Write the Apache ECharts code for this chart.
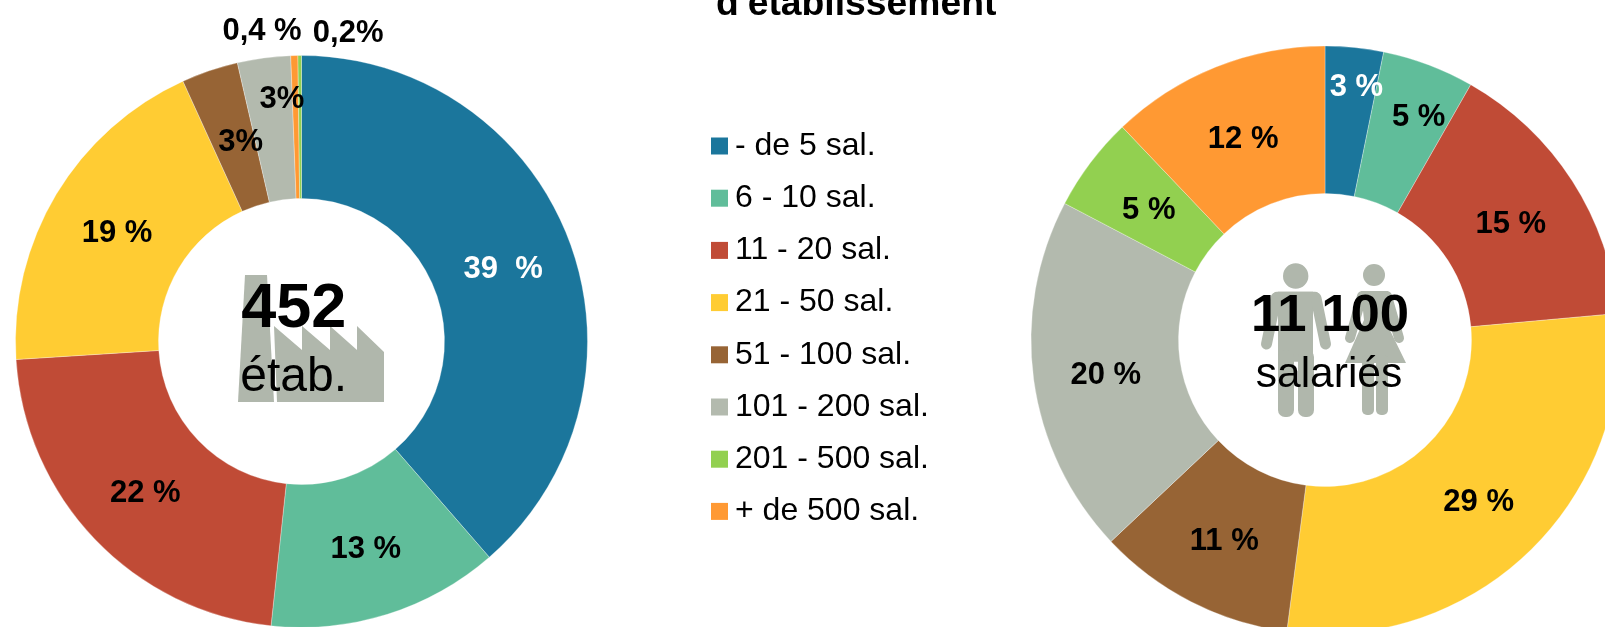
<!DOCTYPE html>
<html><head><meta charset="utf-8">
<style>html,body{margin:0;padding:0;background:#fff;overflow:hidden}#c{width:1605px;height:627px}</style>
<script src="https://cdn.jsdelivr.net/npm/echarts@6/dist/echarts.min.js"></script>
</head><body><div id="c"></div>
<script>
const categories = ['- de 5 sal.','6 - 10 sal.','11 - 20 sal.','21 - 50 sal.','51 - 100 sal.','101 - 200 sal.','201 - 500 sal.','+ de 500 sal.'];
const colors = ['#1B769C','#60BD9A','#C04B36','#FFCC33','#976435','#B3BAAE','#92D050','#FF9933'];
const etabOrder = [0,1,2,3,4,5,7,6];
const etabValues = [38.6,13.1,22.3,19.2,3.2,3.0,0.4,0.2];
const etabLabels = ['39  %','13 %','22 %','19 %','3%','3%','0,4 %','0,2%'];
const salOrder = [0,1,2,3,4,5,6,7];
const salValues = [3.2,5.05,15.3,28.5,10.9,19.7,5.2,12.1];
const salLabels = ['3 %','5 %','15 %','29 %','11 %','20 %','5 %','12 %'];
const etabLabelShift = [[-2,4],[-1,0],[1,2],[2,4],[9,7],[9,-26],[-34,-93],[48,-91]];
const salLabelShift = [[9,-30],[15,-14],[-2,5],[-1,1],[1,3],[2,5],[2,5],[1,7]];
const whiteLabels = {'39  %':1,'3 %':1};

function pie(name, order, values, labels, shifts, center, radius){
  return {
    type:'pie', name, silent:true, center, radius, startAngle:90, clockwise:true,
    animation:false, avoidLabelOverlap:false, percentPrecision:2,
    labelLine:{show:false},
    label:{show:true, position:'inside', fontFamily:'Liberation Sans', fontWeight:'bold', fontSize:31, color:'#000'},
    labelLayout:(p)=>({dx:shifts[p.dataIndex][0], dy:shifts[p.dataIndex][1], hideOverlap:false}),
    itemStyle:{borderColor:'#fff', borderWidth:0.3},
    data: values.map((v,i)=>({
      name:categories[order[i]], value:v,
      itemStyle:{color:colors[order[i]]},
      label:{formatter:labels[i], color: (whiteLabels[labels[i]] ? '#fff':'#000')}
    }))
  };
}
const iconGrey='#B0B7AC';
const poly=(points)=>({type:'polygon',z:5,silent:true,shape:{points},style:{fill:iconGrey}});
const limb=(x1,y1,x2,y2,w)=>({type:'line',z:5,silent:true,shape:{x1,y1,x2,y2},style:{stroke:iconGrey,lineWidth:w,lineCap:'round'}});
const box=(x,y,width,height,r)=>({type:'rect',z:5,silent:true,shape:{x,y,width,height,r},style:{fill:iconGrey}});
const head=(cx,cy,r)=>({type:'circle',z:5,silent:true,shape:{cx,cy,r},style:{fill:iconGrey}});
const txt=(text,x,y,size,weight)=>({type:'text',z:10,silent:true,x,y,style:{text,fill:'#000',align:'center',verticalAlign:'top',font:weight+' '+size+'px "Liberation Sans"'}});

const chart=echarts.init(document.getElementById('c'),null,{renderer:'canvas'});
chart.setOption({
  animation:false, backgroundColor:'#fff',
  title:{text:"d'établissement", left:716, top:-14, padding:0, textStyle:{fontFamily:'Liberation Sans',fontWeight:'bold',fontSize:37.3,color:'#000'}},
  legend:{orient:'vertical', left:711, top:130, height:480, padding:0, itemWidth:17, itemHeight:17, itemGap:20.2, icon:'rect', selectedMode:false,
    data:categories, textStyle:{fontFamily:'Liberation Sans',fontSize:32,color:'#000',padding:[0,0,0,2]}, itemStyle:{borderWidth:0}},
  series:[
    pie('Établissements',etabOrder,etabValues,etabLabels,etabLabelShift,[301.5,341.5],[143,286]),
    pie('Salariés',salOrder,salValues,salLabels,salLabelShift,[1325,340],[146.5,294])
  ],
  graphic:{elements:[
    poly([[245,275],[267,275],[274,402],[238,402]]),
    poly([[274,326],[302,350],[302,326],[330,350],[330,326],[357,350],[357,326],[384,352],[384,402],[277,402]]),
    head(1295.7,276,12.7), box(1272,291.7,48,12,5), box(1278,291.7,35,70,0),
    box(1278,350,16,67,7), box(1298,350,16,67,7),
    limb(1276,298,1266.5,344,11), limb(1316,298,1325.5,344,11),
    head(1374,275,11), poly([[1361,291],[1388,291],[1385,320],[1406,363],[1345,363],[1364,320]]),
    limb(1362,296,1350,338,10), limb(1387,296,1399,338,10),
    box(1362,355,12,60,5), box(1376,355,12,60,5),
    txt('452',293.7,278,63,'bold'), txt('étab.',293.7,354,48,'normal'),
    txt('11 100',1330,290,52.7,'bold'), txt('salariés',1329,354,42.5,'normal')
  ]}
});
</script></body></html>
